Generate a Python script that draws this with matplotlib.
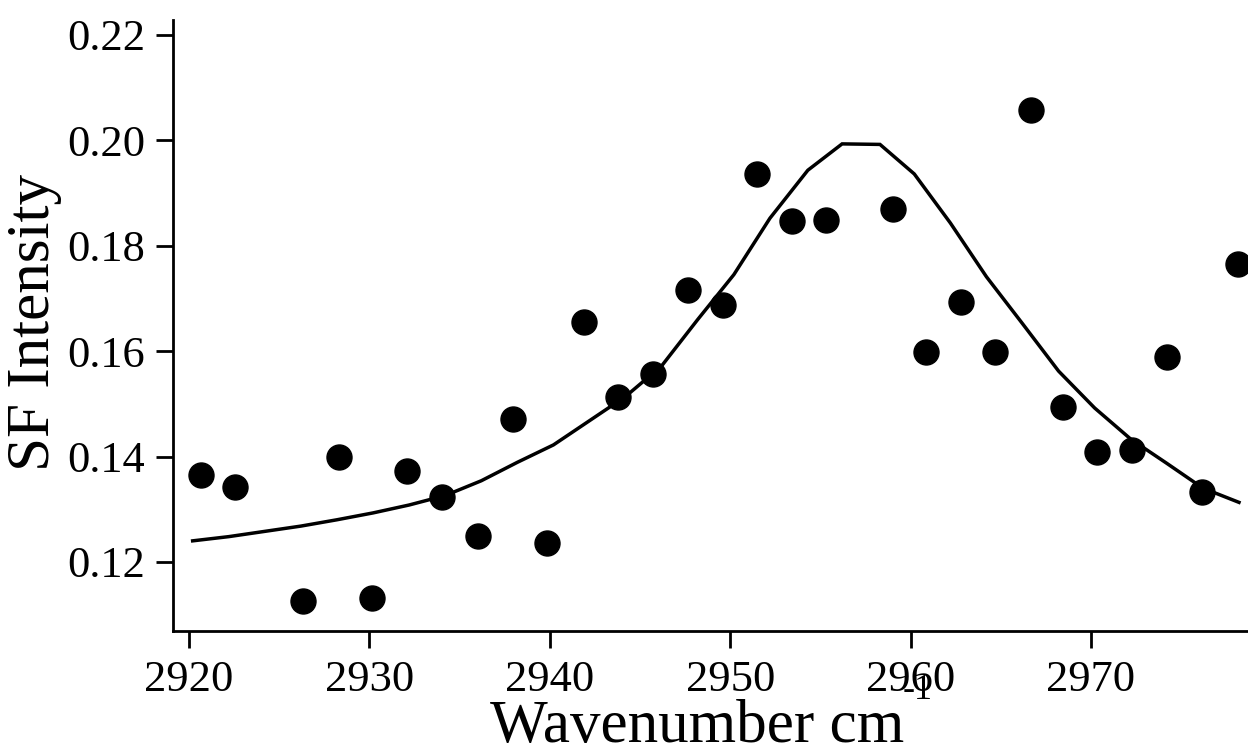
#!/usr/bin/env python3
"""SF spectrum: measured points plus fitted curve, CH3 stretch region."""
import numpy as np
import matplotlib
matplotlib.use("Agg")
import matplotlib.pyplot as plt
from matplotlib.ticker import FormatStrFormatter

plt.rcParams.update({"font.family": "serif", "font.serif": ["Liberation Serif", "DejaVu Serif"]})

wn_pts = [2920.65, 2922.55, 2926.30, 2928.31, 2930.13, 2932.10, 2934.04, 2936.00,
          2937.94, 2939.86, 2941.90, 2943.76, 2945.74, 2947.68, 2949.58, 2951.50,
          2953.41, 2955.29, 2959.04, 2960.87, 2962.79, 2964.66, 2966.66, 2968.43,
          2970.35, 2972.26, 2974.19, 2976.14, 2978.13]
sf_pts = [0.1364, 0.1342, 0.1125, 0.1399, 0.1132, 0.1373, 0.1323, 0.1249,
          0.1471, 0.1235, 0.1655, 0.1512, 0.1557, 0.1716, 0.1688, 0.1936,
          0.1847, 0.1848, 0.1869, 0.1599, 0.1694, 0.1599, 0.2058, 0.1494,
          0.1409, 0.1412, 0.1588, 0.1333, 0.1765]

# --- fitted curve (vertices) ---
wn_fit = [2920.2, 2922.2, 2924.2, 2926.2, 2928.2, 2930.2, 2932.2, 2934.2, 2936.2, 2938.2,
          2940.2, 2942.2, 2944.2, 2946.2, 2948.2, 2950.2, 2952.2, 2954.3, 2956.2, 2958.3,
          2960.2, 2962.2, 2964.2, 2966.2, 2968.2, 2970.2, 2972.2, 2974.2, 2976.2, 2978.2]
sf_fit = [0.1240, 0.1248, 0.1258, 0.1268, 0.1280, 0.1293, 0.1308, 0.1326, 0.1354, 0.1389,
          0.1422, 0.1468, 0.1514, 0.1572, 0.1660, 0.1745, 0.1852, 0.1943, 0.1993, 0.1992,
          0.1936, 0.1843, 0.1741, 0.1652, 0.1562, 0.1492, 0.1433, 0.1387, 0.1340, 0.1313]

x_ticks = [2920, 2930, 2940, 2950, 2960, 2970]
y_ticks = [0.12, 0.14, 0.16, 0.18, 0.20, 0.22]

W, H = 1248, 754
fig = plt.figure(figsize=(W / 100, H / 100), dpi=100)
ax = fig.add_axes([173 / W, 1 - 631 / H, 1 - 173 / W, (631 - 20) / H])

ax.plot(wn_fit, sf_fit, color="black", lw=2.5, solid_joinstyle="miter")
ax.plot(wn_pts, sf_pts, "o", color="black", ms=18, clip_on=False)

ax.set_xlim(2919.11, 2978.70)
ax.set_ylim(0.1069, 0.2228)
ax.set_xticks(x_ticks)
ax.set_yticks(y_ticks)
ax.yaxis.set_major_formatter(FormatStrFormatter("%.2f"))

for s in ["top", "right"]:
    ax.spines[s].set_visible(False)
for s in ["left", "bottom"]:
    ax.spines[s].set_linewidth(2)

ax.tick_params(axis="both", direction="out", length=12, width=2, labelsize=32)
ax.tick_params(axis="x", pad=9)
ax.tick_params(axis="y", pad=8)

fig.text(34 / W, 1 - 322 / H, "SF Intensity", rotation=90, ha="center", va="center", fontsize=44)
fig.text(697 / W, 1 - 742 / H, "Wavenumber cm", ha="center", va="baseline", fontsize=44)
fig.text(903 / W, 1 - 699 / H, "-1", ha="left", va="baseline", fontsize=26)

fig.savefig("out.png", dpi=100, facecolor="white")
